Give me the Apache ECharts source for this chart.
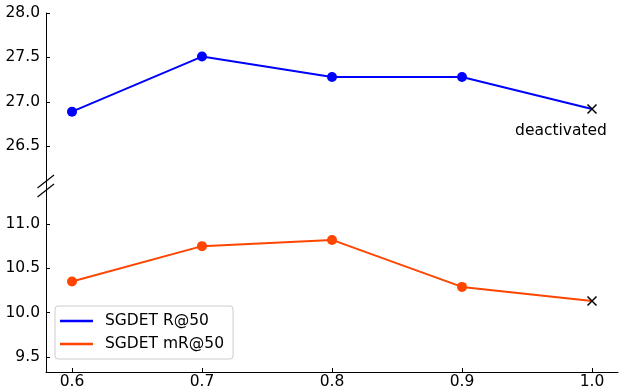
<!DOCTYPE html>
<html><head><meta charset="utf-8">
<script src="https://cdn.jsdelivr.net/npm/echarts@6/dist/echarts.min.js"></script>
<style>html,body{margin:0;padding:0;background:#fff}#c{width:623px;height:390px}</style>
</head><body><div id="c"></div>
<script>
const thresholds = [0.6, 0.7, 0.8, 0.9, 1.0];
const r50 = [26.89, 27.51, 27.28, 27.28, 26.92];
const mr50 = [10.35, 10.75, 10.82, 10.29, 10.13];
const xTicks = [0.6, 0.7, 0.8, 0.9, 1.0];
const topTicks = [26.5, 27.0, 27.5, 28.0];
const bottomTicks = [9.5, 10.0, 10.5, 11.0];
const seriesNames = ['SGDET R@50', 'SGDET mR@50'];
const note = 'deactivated';

const FONT = 'DejaVu Sans';
const FS = 15.5;
const crossSymbol = 'path://M0,0L10,10M10,0L0,10';

function buildData(vals, withNote) {
  return vals.map((v, i) => {
    const item = { value: [thresholds[i], v] };
    if (i === vals.length - 1) {
      item.symbol = crossSymbol;
      item.symbolSize = 9;
      item.itemStyle = { color: 'none', borderColor: '#000', borderWidth: 1.5 };
      if (withNote) {
        item.label = {
          show: true, formatter: note, position: 'bottom', distance: 7,
          offset: [-31, 0], color: '#000', fontFamily: FONT, fontSize: FS
        };
      }
    }
    return item;
  });
}

const axisLineStyle = { show: true, lineStyle: { color: '#000', width: 1 } };

const chart = echarts.init(document.getElementById('c'), null, { renderer: 'canvas' });
chart.setOption({
  animation: false,
  backgroundColor: '#fff',
  grid: [
    { left: 46, right: 5, top: 13, height: 172.5 },
    { left: 46, right: 5, top: 185.5, height: 188 }
  ],
  xAxis: [
    { gridIndex: 0, type: 'value', min: 0.58, max: 1.02, show: false },
    {
      gridIndex: 1, type: 'value', min: 0.58, max: 1.02,
      axisLine: axisLineStyle, splitLine: { show: false },
      axisTick: { show: true, inside: true, length: 4, customValues: xTicks, lineStyle: { color: '#000' } },
      axisLabel: { customValues: xTicks, formatter: v => v.toFixed(1), color: '#000', fontFamily: FONT, fontSize: FS, margin: 2 }
    }
  ],
  yAxis: [
    {
      gridIndex: 0, type: 'value', min: 26.06, max: 28.0,
      axisLine: axisLineStyle, splitLine: { show: false },
      axisTick: { show: true, inside: true, length: 4, customValues: topTicks, lineStyle: { color: '#000' } },
      axisLabel: { customValues: topTicks, formatter: v => v.toFixed(1), color: '#000', fontFamily: FONT, fontSize: FS, margin: 6 }
    },
    {
      gridIndex: 1, type: 'value', min: 9.33, max: 11.434,
      axisLine: axisLineStyle, splitLine: { show: false },
      axisTick: { show: true, inside: true, length: 4, customValues: bottomTicks, lineStyle: { color: '#000' } },
      axisLabel: { customValues: bottomTicks, formatter: v => v.toFixed(1), color: '#000', fontFamily: FONT, fontSize: FS, margin: 6 }
    }
  ],
  legend: {
    data: seriesNames,
    orient: 'vertical', left: 55, top: 306,
    padding: [7, 9, 7, 5], itemGap: 7,
    itemWidth: 33, itemHeight: 2.5, icon: 'rect',
    borderColor: '#cccccc', borderWidth: 1, borderRadius: 3,
    backgroundColor: 'rgba(255,255,255,0.85)',
    textStyle: { color: '#000', fontFamily: FONT, fontSize: FS, padding: [0, 0, 0, 7] }
  },
  series: [
    {
      name: seriesNames[0], type: 'line', xAxisIndex: 0, yAxisIndex: 0,
      data: buildData(r50, true), color: '#0000ff',
      symbol: 'circle', symbolSize: 10, lineStyle: { width: 2, color: '#0000ff' },
      itemStyle: { color: '#0000ff' }
    },
    {
      name: seriesNames[1], type: 'line', xAxisIndex: 1, yAxisIndex: 1,
      data: buildData(mr50, false), color: '#ff4500',
      symbol: 'circle', symbolSize: 10, lineStyle: { width: 2, color: '#ff4500' },
      itemStyle: { color: '#ff4500' }
    }
  ],
  graphic: [
    { type: 'line', shape: { x1: 37.5, y1: 188, x2: 54, y2: 175 }, style: { stroke: '#000', lineWidth: 1.2 } },
    { type: 'line', shape: { x1: 37.5, y1: 197, x2: 54, y2: 184 }, style: { stroke: '#000', lineWidth: 1.2 } }
  ]
});
</script></body></html>
